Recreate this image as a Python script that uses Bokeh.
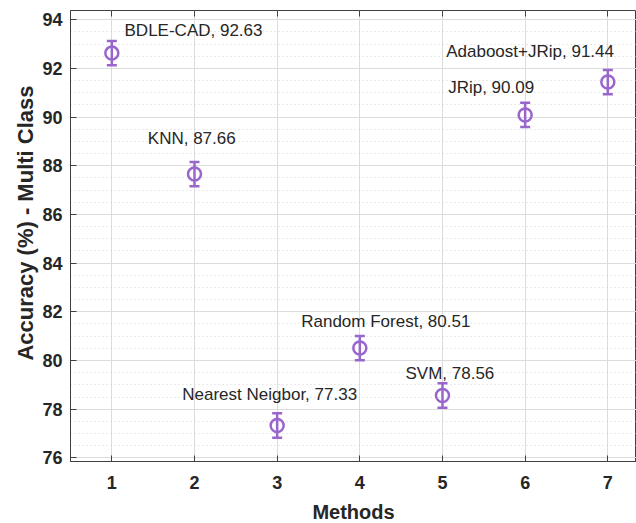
from bokeh.plotting import figure
from bokeh.models import (ColumnDataSource, Whisker, TeeHead, LinearAxis, Title,
                          SingleIntervalTicker, FixedTicker, Range1d)
from bokeh.core.properties import value
from bokeh.embed import file_html
from bokeh.resources import INLINE

# ---- data ----
methods = [1, 2, 3, 4, 5, 6, 7]
names = ["BDLE-CAD", "KNN", "Nearest Neigbor", "Random Forest", "SVM", "JRip", "Adaboost+JRip"]
accuracy = [92.63, 87.66, 77.33, 80.51, 78.56, 90.09, 91.44]
error = [0.5, 0.5, 0.5, 0.5, 0.5, 0.5, 0.5]

# label placement (pixel offsets from each point), style only
label_dx = [12.7, -46.7, -94.9, -58.6, -37.0, -77.0, -161.6]
label_dy = [-22.9, -35.8, -30.9, -26.8, -22.0, -27.4, -30.1]

PURPLE = "#9966CC"
TXT = "#262626"
FONT = "Liberation Sans"

src = ColumnDataSource(dict(
    x=methods, y=accuracy,
    lower=[a - e for a, e in zip(accuracy, error)],
    upper=[a + e for a, e in zip(accuracy, error)],
    text=[f"{n}, {a:.2f}" for n, a in zip(names, accuracy)],
    dx=label_dx, dy=label_dy,
))

p = figure(frame_width=566, frame_height=451, min_border_left=70, min_border_right=0,
           min_border_top=10, min_border_bottom=62,
           x_range=Range1d(0.5, 7.347), y_range=Range1d(75.85, 94.38),
           output_backend="svg", toolbar_location=None)
p.background_fill_color = "white"
p.border_fill_color = "white"
p.outline_line_color = "#404040"
p.outline_line_width = 1

# axes
p.xaxis.ticker = FixedTicker(ticks=methods)
p.yaxis.ticker = SingleIntervalTicker(interval=2, num_minor_ticks=4)
for ax in (p.xaxis[0], p.yaxis[0]):
    ax.major_tick_in = 6
    ax.major_tick_out = 0
    ax.minor_tick_in = 0
    ax.minor_tick_out = 0
    ax.axis_line_color = "#404040"
    ax.major_tick_line_color = "#404040"
    ax.major_label_text_font = FONT
    ax.major_label_text_font_style = "bold"
    ax.major_label_text_font_size = "18px"
    ax.major_label_text_color = TXT
p.xaxis.major_label_standoff = 14
p.yaxis.major_label_standoff = 8
p.xaxis.axis_label = "Methods"
p.xaxis.axis_label_text_font = FONT
p.xaxis.axis_label_text_font_style = "bold"
p.xaxis.axis_label_text_font_size = "20px"
p.xaxis.axis_label_text_color = TXT
p.xaxis.axis_label_standoff = 9

top = LinearAxis(ticker=FixedTicker(ticks=methods), major_tick_in=6, major_tick_out=0,
                 minor_tick_in=0, minor_tick_out=0,
                 major_label_overrides={m: "" for m in methods},
                 axis_line_color=None, major_tick_line_color="#404040")
p.add_layout(top, "above")

# grids
p.xgrid.grid_line_color = "#dcdcdc"
p.xgrid.ticker = FixedTicker(ticks=methods)
p.ygrid.grid_line_color = "#dcdcdc"
p.ygrid.minor_grid_line_color = "#d4d4d4"
p.ygrid.minor_grid_line_dash = "1 3"

# error bars
w = Whisker(source=src, base="x", lower="lower", upper="upper",
            line_color=PURPLE, line_width=2.5,
            upper_head=TeeHead(size=10, line_color=PURPLE, line_width=2.5),
            lower_head=TeeHead(size=10, line_color=PURPLE, line_width=2.5))
p.add_layout(w)

p.scatter("x", "y", source=src, size=13, fill_color=None, line_color=PURPLE, line_width=2.5)

p.text("x", "y", text="text", source=src, x_offset="dx", y_offset="dy",
       text_font=value(FONT), text_font_size="17px", text_color=TXT,
       text_align="left", text_baseline="middle")

ylab = Title(text="Accuracy (%) - Multi Class", align="right", offset=75,
             text_font=FONT, text_font_style="bold", text_font_size="22px",
             text_color=TXT, standoff=4)
p.add_layout(ylab, "left")

open("out.html", "w").write(file_html(p, INLINE))
